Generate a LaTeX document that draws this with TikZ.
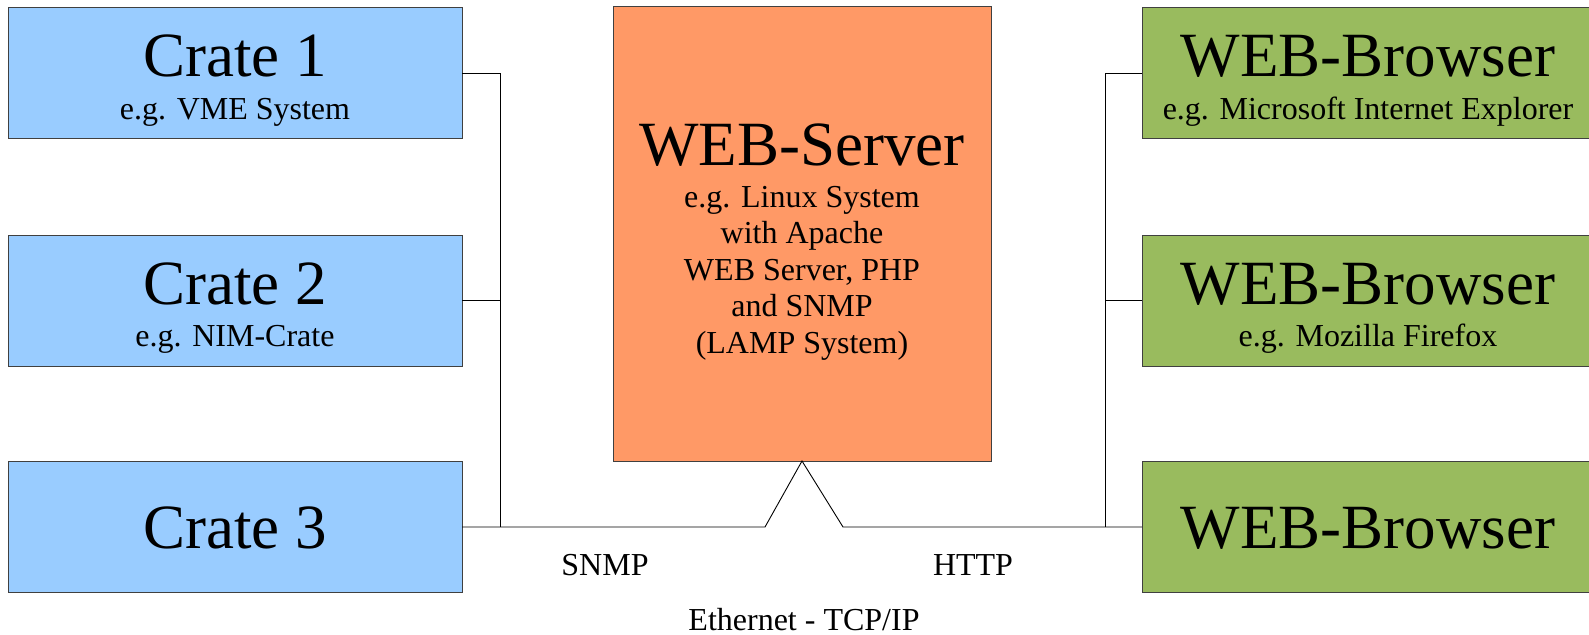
\documentclass[tikz,border=0pt]{standalone}
\usepackage{fontspec}
\setmainfont{Liberation Serif}
\definecolor{crateblue}{HTML}{99CCFF}
\definecolor{serverorange}{HTML}{FF9966}
\definecolor{browsergreen}{HTML}{99BB5E}
\begin{document}
\begin{tikzpicture}[x=1pt,y=-1pt,
  box/.style={draw=black!75, line width=1pt, inner sep=0pt, outer sep=0pt},
  crate/.style={box, fill=crateblue, minimum width=454pt, minimum height=131pt},
  browser/.style={box, fill=browsergreen, minimum width=448pt, minimum height=131pt},
  server/.style={box, fill=serverorange, minimum width=378pt, minimum height=454pt},
  big/.style={font=\fontsize{63}{63}\selectfont, inner sep=0pt, anchor=base},
  small/.style={font=\fontsize{32}{36.5}\selectfont, inner sep=0pt, anchor=base, align=center},
  wire/.style={draw=black, line width=0.9pt}]
\useasboundingbox (0,0) rectangle (1589,634);
% boxes
\node[crate] (c1) at (235,73) {};
\node[crate] (c2) at (235,300.5) {};
\node[crate] (c3) at (235,527) {};
\node[server] (srv) at (802,234) {};
\node[browser] (b1) at (1366,73) {};
\node[browser] (b2) at (1366,300.5) {};
\node[browser] (b3) at (1366,527) {};
% texts
\node[big] (c1t) at (235,77) {Crate 1};
\node[small] (c1s) at (235,119) {e.g. VME System};
\node[big] (c2t) at (235,304.5) {Crate 2};
\node[small] (c2s) at (235,346.5) {e.g. NIM-Crate};
\node[big] (c3t) at (235,548) {Crate 3};
\node[big] (srvt) at (802,165) {WEB-Server};
\node[small] (srvs) at (802,353) {e.g. Linux System\\with Apache\\WEB Server, PHP\\and SNMP\\(LAMP System)};
\node[big] (b1t) at (1368,77) {WEB-Browser};
\node[small] (b1s) at (1368,119) {e.g. Microsoft Internet Explorer};
\node[big] (b2t) at (1368,304.5) {WEB-Browser};
\node[small] (b2s) at (1368,346.5) {e.g. Mozilla Firefox};
\node[big] (b3t) at (1368,548) {WEB-Browser};
% connectors
\coordinate (lj) at (500,527);
\coordinate (rj) at (1105,527);
\coordinate (zl) at (765,527);
\coordinate (zr) at (843,527);
\draw[wire] (c1.east) -- (c1.east -| lj) -- (lj);
\draw[wire] (c2.east) -- (c2.east -| lj);
\draw[wire] (c3.east) -- (lj) -- (zl) -- (srv.south) -- (zr) -- (rj) -- (b3.west);
\draw[wire] (b1.west) -- (b1.west -| rj) -- (rj);
\draw[wire] (b2.west) -- (b2.west -| rj);
% labels
\node[small] (snmp) at (605,575) {SNMP};
\node[small] (http) at (973,575) {HTTP};
\node[small] (eth) at (804,630) {Ethernet - TCP/IP};
\end{tikzpicture}
\end{document}
